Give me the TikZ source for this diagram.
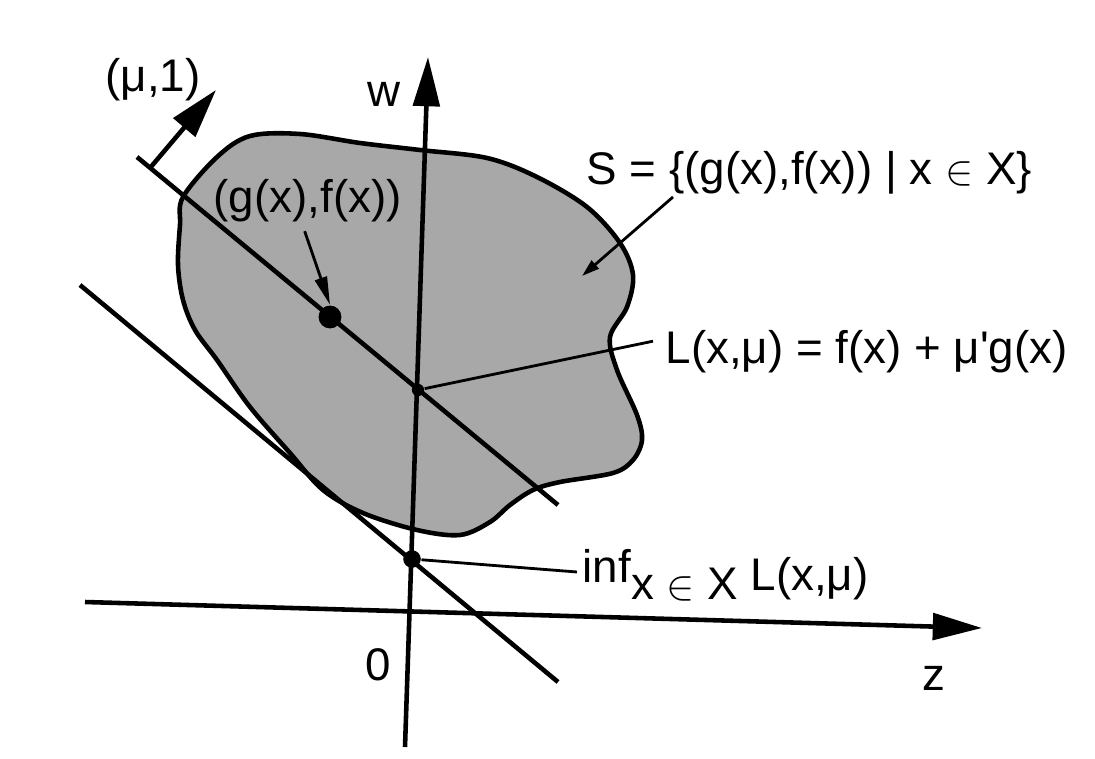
\documentclass[tikz,border=0pt]{standalone}
\usepackage{fontspec}
\setmainfont{Liberation Sans}
\usetikzlibrary{arrows.meta}

\begin{document}
\begin{tikzpicture}[
            x=0.01cm, y=-0.01cm,
            axis/.style={line width=1.3pt, -{Triangle[length=14pt, width=7.5pt]}},
            thickline/.style={line width=1.3pt},
            leader/.style={line width=0.8pt},
            lbl/.style={inner sep=0pt, font=\fontsize{13}{15}\selectfont},
            dot/.style={circle, fill=black, inner sep=0pt}
        ]
        \useasboundingbox (0,0) rectangle (1095,758);

        % Set S
        \filldraw[fill=gray!68, line width=1.3pt] plot[smooth cycle, tension=0.55] coordinates {
            (183,197) (217,157) (250,136) (300,134) (360,143) (420,150) (487,158)
            (537,177) (587,207) (620,243) (633,275) (627,307) (610,337) (617,370)
            (637,415) (642,440) (633,460) (613,473) (560,482) (533,490) (510,505)
            (490,522) (460,535) (417,530) (363,513) (323,490) (290,453) (250,407)
            (217,360) (195,330) (183,300) (178,265) (180,225)};

        % Axes
        \coordinate (zstart) at (85,602);
        \coordinate (zend) at (982,628);
        \coordinate (wstart) at (405,747);
        \coordinate (wend) at (428,57);
        \draw[axis] (zstart) -- (zend);
        \draw[axis] (wstart) -- (wend);

        % Lines
        \coordinate (lstart) at (137,157);
        \coordinate (lend) at (558,505);
        \coordinate (tstart) at (80,285);
        \coordinate (tend) at (558,682);
        \draw[thickline] (lstart) -- (lend);
        \draw[thickline] (tstart) -- (tend);

        % Normal vector
        \coordinate (foot) at (150,168);
        \coordinate (normaltip) at (216,90);
        \draw[thickline, -{Triangle[length=14pt, width=8pt]}] (foot) -- (normaltip);

        % Points
        \node[dot, minimum size=6.5pt] (gfx) at (330,317) {};
        \node[dot, minimum size=3.5pt] (center) at (418,390) {};
        \node[dot, minimum size=5pt] (infdot) at (412,559) {};

        % Labels
        \node[lbl, anchor=base west] (mu) at (105,92) {(μ,1)};
        \node[lbl, anchor=base west] (w) at (367,107) {w};
        \node[lbl, anchor=base west] (gf) at (213,213) {(g(x),f(x))};
        \node[lbl, anchor=base west] (S) at (586,185) {S = \{(g(x),f(x)) | x $\in$ X\}};
        \node[lbl, anchor=base west] (L) at (665,363) {L(x,μ) = f(x) + μ\textquotesingle g(x)};
        \node[lbl, anchor=base west] (inf) at (582,582) {inf\raisebox{-5pt}{x $\in$ X} \raisebox{-2.3pt}{L(x,μ)}};
        \node[lbl, anchor=base west] (zero) at (365,680) {0};
        \node[lbl, anchor=base west] (z) at (922,690) {z};

        % Leaders
        \coordinate (sfoot) at (673,197);
        \coordinate (stip) at (582,276);
        \coordinate (inffoot) at (577,572);
        \draw[leader, -{Triangle[length=8pt, width=3.5pt]}] (gf.south) ++(-3,8) -- (gfx.north);
        \draw[leader, -{Triangle[length=5pt, width=3pt]}] (sfoot) -- (stip);
        \draw[leader] (L.west) ++(-12,-10) -- (center);
        \draw[leader] (inffoot) -- (infdot);

        \end{tikzpicture}
\end{document}
